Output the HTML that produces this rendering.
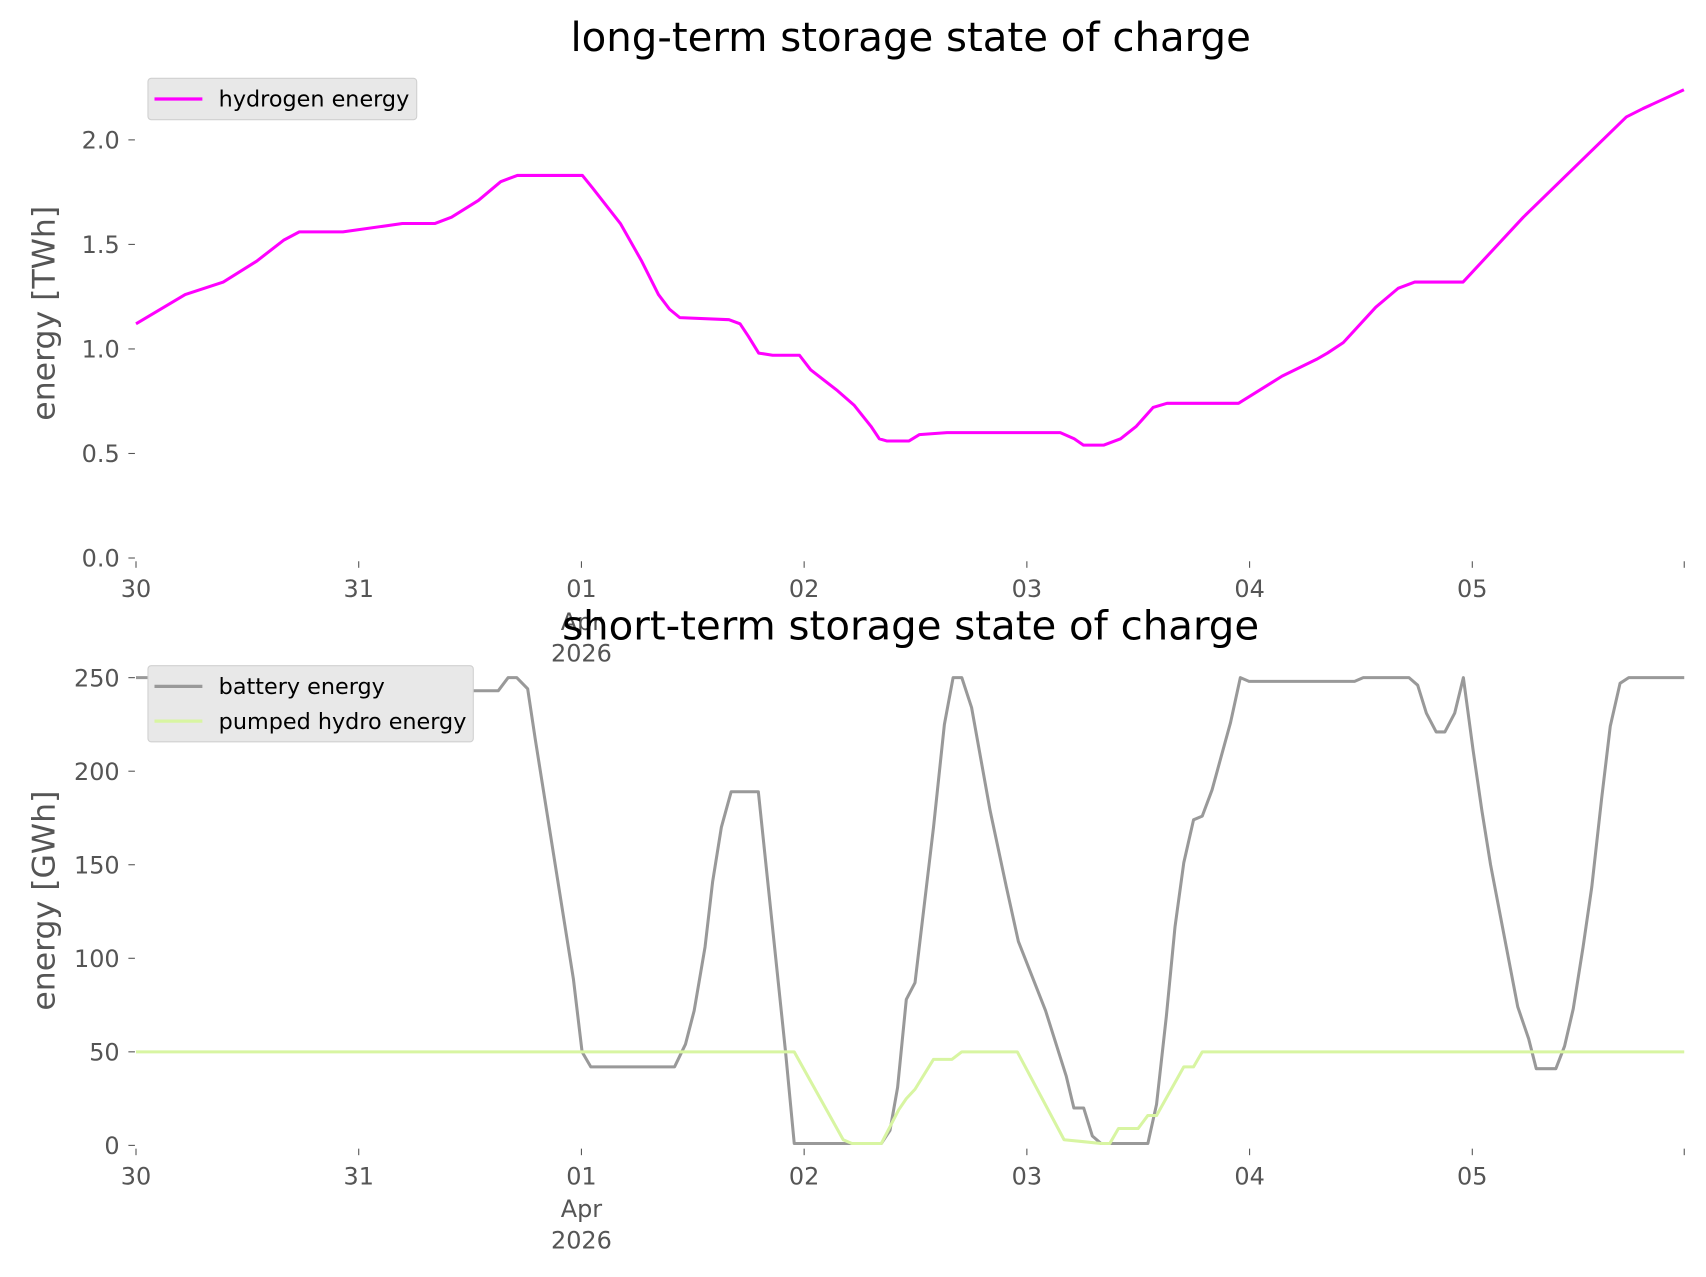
<!DOCTYPE html>
<html><head><meta charset="utf-8"><style>
html,body{margin:0;padding:0;background:#fff;}
svg{display:block;font-family:"DejaVu Sans","Liberation Sans",sans-serif;}
</style></head><body>
<svg id="chart" width="1706" height="1277" viewBox="0 0 1568 1174" preserveAspectRatio="none" xmlns="http://www.w3.org/2000/svg">
<rect x="0" y="0" width="1568" height="1174" fill="#fff"/>
<g id="topPanel"></g><g id="botPanel"></g>
</svg>
<script>
// x in hours since 30 Mar 00:00
const dayLabels = ["30","31","01","02","03","04","05"];
const h2Hours = [0,5.3,9.4,13.0,15.9,17.6,22.3,28.7,32.2,34.0,36.9,39.3,41.1,48.1,49.2,52.2,54.5,56.3,57.5,58.6,63.9,65.1,66.0,67.1,68.6,71.5,72.7,75.6,77.4,79.2,80.1,80.9,83.3,84.4,87.4,99.6,101.1,102.1,104.3,106.1,107.8,109.6,111.1,118.8,123.5,127.2,128.4,130.1,133.6,136.0,137.8,143.0,149.5,160.6,162.4,166.8];
const h2Values = [1.12,1.26,1.32,1.42,1.52,1.56,1.56,1.60,1.60,1.63,1.71,1.80,1.83,1.83,1.77,1.60,1.42,1.26,1.19,1.15,1.14,1.12,1.06,0.98,0.97,0.97,0.90,0.80,0.73,0.63,0.57,0.56,0.56,0.59,0.60,0.60,0.57,0.54,0.54,0.57,0.63,0.72,0.74,0.74,0.87,0.95,0.98,1.03,1.20,1.29,1.32,1.32,1.63,2.11,2.15,2.24];
const batX = [125,375,390,458,467,475,485,492,527,535,543,620,630,638,648,655,663,672,697,722,730,810,818,825,833,841,858,868,876,884,893,910,925,936,961,980,987,996,1004,1012,1055,1063,1072,1080,1088,1097,1105,1114,1122,1131,1140,1148,1245,1253,1295,1303,1311,1320,1328,1337,1345,1354,1362,1370,1395,1405,1412,1430,1438,1446,1455,1463,1472,1480,1489,1497,1548];
const batValues = [250,250,243,243,250,250,244,217,89,50,42,42,54,72,106,141,170,189,189,50,1,1,8,31,78,87,170,225,250,250,234,179,138,109,72,37,20,20,5,1,1,22,69,117,151,174,176,190,207,226,250,248,248,250,250,246,231,221,221,231,250,211,179,150,74,57,41,41,53,73,106,138,185,224,247,250,250];
const phX = [125,730,775,783,810,826,833,841,858,875,884,935,978,996,1012,1020,1028,1046,1055,1063,1088,1097,1105,1548];
const phValues = [50,50,3,1,1,19,25,30,46,46,50,50,3,2,1,1,9,9,16,16,42,42,50,50];

const NS="http://www.w3.org/2000/svg";
function mk(parent,tag,attrs,text){const e=document.createElementNS(NS,tag);for(const k in attrs)e.setAttribute(k,attrs[k]);if(text!==undefined)e.textContent=text;parent.appendChild(e);return e;}
const X0=125, PXH=204.7/24;
const xH = h => X0 + h*PXH;
const batHours = batX.map(p => (p-X0)/PXH);
const phHours = phX.map(p => (p-X0)/PXH);

function axes(g, y0px, yScale, ticks, fmt, ylabel, ytitlePos, title, titleY){
  ticks.forEach(t=>{
    const y=yScale(t);
    const tk=mk(g,'line',{x1:118,x2:124,y1:y,y2:y,stroke:'#555','stroke-width':1});
    
    
    const tl=mk(g,'text',{x:110,y:y+8,'text-anchor':'end','font-size':22,fill:'#555'},fmt(t));
    
    
  });
  dayLabels.forEach((d,i)=>{
    const x=xH(i*24);
    const tk=mk(g,'line',{x1:x,x2:x,y1:y0px+3,y2:y0px+9,stroke:'#555','stroke-width':1});
    
    
    const tl=mk(g,'text',{x:x,y:y0px+36,'text-anchor':'middle','font-size':22,fill:'#555'},d);
    
    
    if(i===2){
      const a=mk(g,'text',{x:x,y:y0px+66,'text-anchor':'middle','font-size':22,fill:'#555'},'Apr');
      
      
      const b=mk(g,'text',{x:x,y:y0px+95,'text-anchor':'middle','font-size':22,fill:'#555'},'2026');
      
      
    }
  });
  const et=mk(g,'line',{x1:1548,x2:1548,y1:y0px+3,y2:y0px+9,stroke:'#555','stroke-width':1});
  
  
  const yl=mk(g,'text',{x:0,y:0,transform:`translate(50,${ytitlePos}) rotate(-90)`,'text-anchor':'middle','font-size':29,fill:'#555'},ylabel);
  
  
  const tt=mk(g,'text',{x:837,y:titleY,'text-anchor':'middle','font-size':37,fill:'#000'},title);
  
  
}
function line(g,hs,vs,ys,color,name){
  const d=hs.map((h,i)=>(i?'L':'M')+xH(h).toFixed(1)+','+ys(vs[i]).toFixed(1)).join('');
  const p=mk(g,'path',{d:d,fill:'none',stroke:color,'stroke-width':2.8,'stroke-linejoin':'round'});
  
  
}
function legend(g,x,y,w,items){
  const h=items.length*32+6;
  const r=mk(g,'rect',{x:x,y:y,width:w,height:h,rx:3,fill:'#e8e8e8',stroke:'#d0d0d0','stroke-width':1});
  
  
  items.forEach((it,i)=>{
    const cy=y+19+i*32;
    const l=mk(g,'line',{x1:x+6,x2:x+50,y1:cy,y2:cy,stroke:it[1],'stroke-width':3});
    
    
    const t=mk(g,'text',{x:x+65,y:cy+7,'font-size':20.5,fill:'#000'},it[0]);
    
    
  });
}
const topPanel=document.getElementById('topPanel');


const yT=v=>513-v*192.2;
axes(topPanel,513,yT,[0,0.5,1,1.5,2],v=>v.toFixed(1),'energy [TWh]',288,'long-term storage state of charge',47);
line(topPanel,h2Hours,h2Values,yT,'#ff00ff','hydrogen-line');
legend(topPanel,136,72,247,[['hydrogen energy','#ff00ff']]);

const botPanel=document.getElementById('botPanel');


const yB=v=>1053-v*1.72;
axes(botPanel,1053,yB,[0,50,100,150,200,250],v=>String(v),'energy [GWh]',828,'short-term storage state of charge',588);
line(botPanel,batHours,batValues,yB,'#999999','battery-line');
line(botPanel,phHours,phValues,yB,'#d8f5a2','pumped-hydro-line');
legend(botPanel,136,612,299,[['battery energy','#999999'],['pumped hydro energy','#d8f5a2']]);
</script>
</body></html>
